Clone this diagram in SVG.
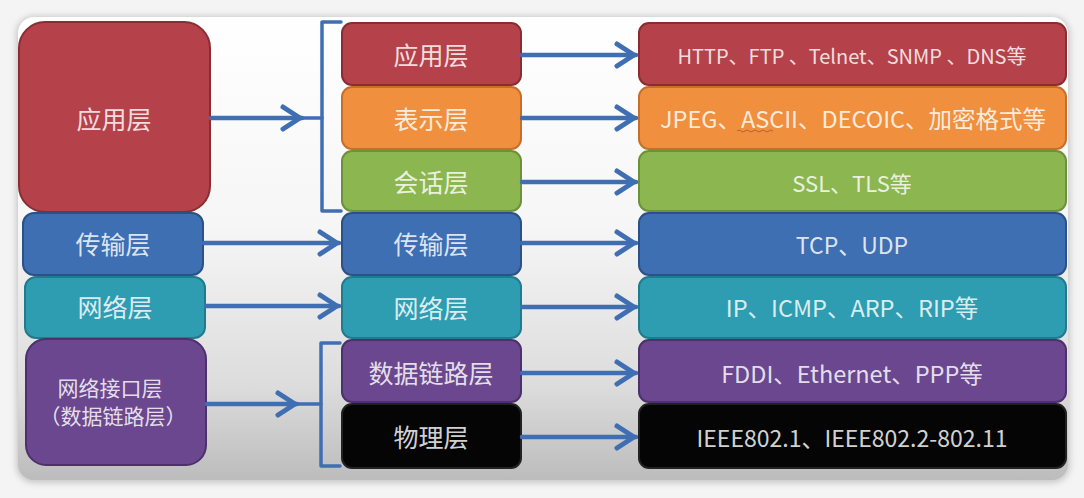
<svg xmlns="http://www.w3.org/2000/svg" width="1084" height="498" viewBox="0 0 1084 498">
<defs>
<linearGradient id="bg" x1="0" y1="0" x2="0" y2="1">
<stop offset="0" stop-color="#ffffff"/>
<stop offset="0.45" stop-color="#f6f6f6"/>
<stop offset="0.8" stop-color="#dcdcdc"/>
<stop offset="1" stop-color="#bcbcbc"/>
</linearGradient>
<filter id="sh" x="-5%" y="-5%" width="110%" height="115%">
<feGaussianBlur stdDeviation="3"/>
</filter>
<marker id="ah" markerUnits="userSpaceOnUse" markerWidth="30" markerHeight="30" viewBox="-24 -15 30 30" refX="0" refY="0" orient="auto">
<path d="M-19,-11 L-2,0 L-19,11" fill="none" stroke="#3f6fb2" stroke-width="5" stroke-linecap="round" stroke-linejoin="round"/>
</marker>
</defs>
<style>
.t{font-family:"Noto Sans CJK SC","Noto Sans",sans-serif;fill:#ffffff;fill-opacity:0.84;text-anchor:middle;dominant-baseline:central}
.cj{font-size:25px}
.lt{font-size:23px}
.red{fill:#b5424a;stroke:#8a2d33;stroke-width:2}
.org{fill:#f0903e;stroke:#c5702a;stroke-width:2}
.grn{fill:#8cb650;stroke:#6d913b;stroke-width:2}
.blu{fill:#3e6fb3;stroke:#2b5186;stroke-width:2}
.tea{fill:#2f9db1;stroke:#217b8c;stroke-width:2}
.pur{fill:#6a478e;stroke:#4c316b;stroke-width:2}
.blk{fill:#050505;stroke:#222222;stroke-width:2}
.ln{fill:none;stroke:#3f6fb2;stroke-width:4.5;stroke-linecap:round}
.br{fill:none;stroke:#3f6fb2;stroke-width:3.5;stroke-linecap:round;stroke-linejoin:round}
</style>
<rect x="0" y="0" width="1084" height="498" fill="#f4f4f4"/>
<rect x="16" y="16" width="1054" height="467" rx="18" fill="#c8c8c8" filter="url(#sh)"/>
<rect x="18" y="17" width="1050" height="463" rx="16" fill="url(#bg)"/>

<g id="tcp-app"><rect class="red" x="19" y="22" width="191" height="190" rx="26"/><text class="t cj" x="114" y="118">应用层</text></g>
<g id="tcp-transport"><rect class="blu" x="23" y="213" width="180" height="62" rx="11"/><text class="t cj" x="113" y="243">传输层</text></g>
<g id="tcp-network"><rect class="tea" x="25" y="277" width="180" height="61" rx="11"/><text class="t cj" x="115" y="306">网络层</text></g>
<g id="tcp-link"><rect class="pur" x="26" y="339" width="180" height="126" rx="20"/><text class="t" x="110" y="387" style="font-size:21px">网络接口层</text><text class="t" x="113" y="415" style="font-size:21px">（数据链路层）</text></g>

<g id="osi-app"><rect class="red" x="342" y="23" width="179" height="62" rx="10"/><text class="t cj" x="431" y="54">应用层</text></g>
<g id="osi-pres"><rect class="org" x="342" y="87" width="179" height="62" rx="10"/><text class="t cj" x="431" y="118">表示层</text></g>
<g id="osi-sess"><rect class="grn" x="342" y="151" width="179" height="60" rx="10"/><text class="t cj" x="431" y="181">会话层</text></g>
<g id="osi-trans"><rect class="blu" x="342" y="213" width="179" height="62" rx="10"/><text class="t cj" x="431" y="243">传输层</text></g>
<g id="osi-net"><rect class="tea" x="342" y="277" width="179" height="61" rx="10"/><text class="t cj" x="431" y="307">网络层</text></g>
<g id="osi-link"><rect class="pur" x="342" y="340" width="179" height="62" rx="10"/><text class="t cj" x="431" y="372">数据链路层</text></g>
<g id="osi-phy"><rect class="blk" x="342" y="404" width="179" height="64" rx="10"/><text class="t cj" x="431" y="436">物理层</text></g>

<g id="proto-app"><rect class="red" x="639" y="23" width="427" height="62" rx="10"/><text class="t" x="852" y="55" style="font-size:20px">HTTP、FTP 、Telnet、SNMP 、DNS等</text></g>
<g id="proto-pres"><rect class="org" x="639" y="87" width="427" height="62" rx="10"/><text class="t" x="853" y="118" style="font-size:23.5px">JPEG、ASCII、DECOIC、加密格式等</text><path d="M737,131 q2,-2 4,0 t4,0 t4,0 t4,0 t4,0 t4,0 t4,0 t4,0 t4,0" fill="none" stroke="#b5603a" stroke-width="1"/></g>
<g id="proto-sess"><rect class="grn" x="639" y="151" width="427" height="60" rx="10"/><text class="t" x="852" y="182" style="font-size:22px">SSL、TLS等</text></g>
<g id="proto-trans"><rect class="blu" x="639" y="213" width="427" height="62" rx="10"/><text class="t lt" x="852" y="244">TCP、UDP</text></g>
<g id="proto-net"><rect class="tea" x="639" y="277" width="427" height="61" rx="10"/><text class="t" x="852" y="307" style="font-size:23.5px">IP、ICMP、ARP、RIP等</text></g>
<g id="proto-link"><rect class="pur" x="639" y="340" width="427" height="62" rx="10"/><text class="t" x="852" y="373" style="font-size:23.5px">FDDI、Ethernet、PPP等</text></g>
<g id="proto-phy"><rect class="blk" x="639" y="404" width="427" height="64" rx="10"/><text class="t lt" x="852" y="437">IEEE802.1、IEEE802.2-802.11</text></g>

<g id="connectors">
<path class="ln" d="M211,118 H302" marker-end="url(#ah)"/>
<path class="br" d="M303,118 H322"/>
<path class="br" d="M341,22 H322 V211 H341"/>
<path class="ln" d="M204,243 H339" marker-end="url(#ah)"/>
<path class="ln" d="M206,306 H339" marker-end="url(#ah)"/>
<path class="ln" d="M207,404 H297" marker-end="url(#ah)"/>
<path class="br" d="M297,404 H321"/>
<path class="br" d="M340,343 H321 V466 H340"/>
<path class="ln" d="M522,55 H636" marker-end="url(#ah)"/>
<path class="ln" d="M522,118 H636" marker-end="url(#ah)"/>
<path class="ln" d="M522,182 H636" marker-end="url(#ah)"/>
<path class="ln" d="M522,243 H636" marker-end="url(#ah)"/>
<path class="ln" d="M522,307 H636" marker-end="url(#ah)"/>
<path class="ln" d="M522,373 H636" marker-end="url(#ah)"/>
<path class="ln" d="M522,437 H636" marker-end="url(#ah)"/>
</g>
</svg>
